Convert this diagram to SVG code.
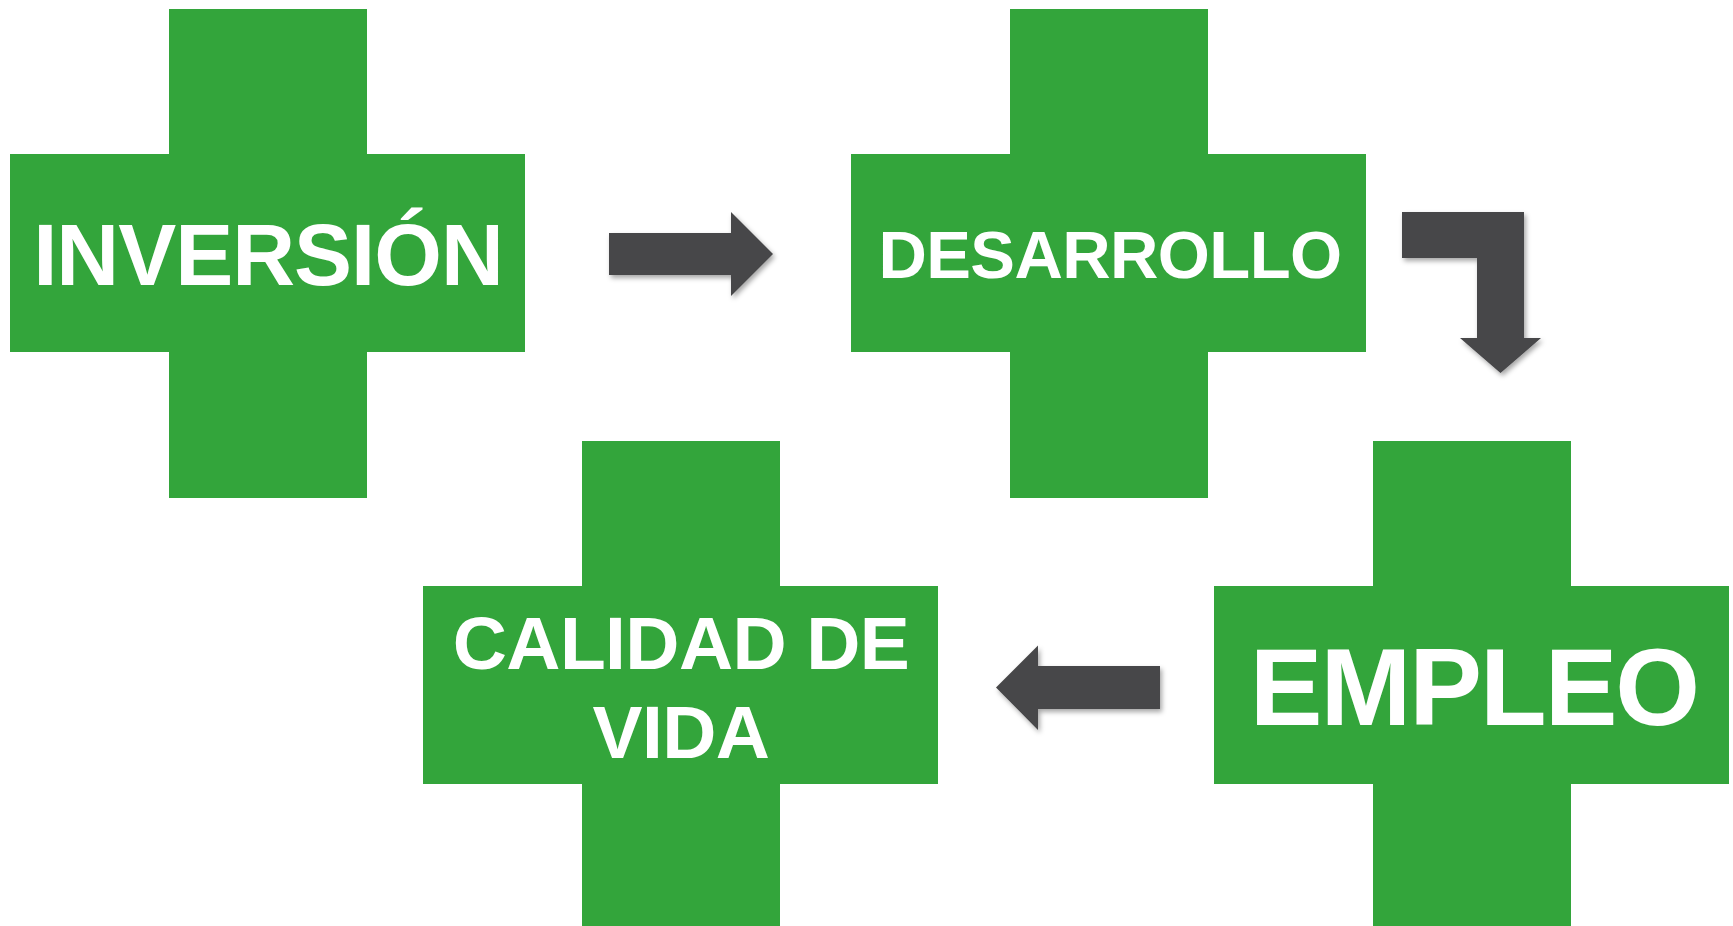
<svg xmlns="http://www.w3.org/2000/svg" xmlns:xlink="http://www.w3.org/1999/xlink" width="1733" height="926" viewBox="0 0 1733 926">
  <style>
    .cross { fill: #33a53b; }
    .lbl { fill: #ffffff; font-family: "Liberation Sans", Arial, sans-serif; font-weight: bold; text-anchor: middle; }
    .arrow { fill: #464648; filter: url(#shadow); }
  </style>
  <defs>
    <path id="crossShape" d="M159,0 h198 v145 h158 v198 h-158 v146 h-198 v-146 h-159 v-198 h159 z"/>
    <filter id="shadow" x="-20%" y="-20%" width="150%" height="150%">
      <feDropShadow dx="2" dy="3" stdDeviation="2.5" flood-color="#000000" flood-opacity="0.35"/>
    </filter>
  </defs>
  <rect width="1733" height="926" fill="#ffffff"/>

  <g id="node-inversion">
    <use xlink:href="#crossShape" href="#crossShape" class="cross" transform="translate(10,9)"/>
    <text class="lbl" x="268" y="285" font-size="87" letter-spacing="-1">INVERSIÓN</text>
  </g>

  <g id="node-desarrollo">
    <use xlink:href="#crossShape" href="#crossShape" class="cross" transform="translate(851,9)"/>
    <text class="lbl" x="1110" y="278" font-size="67" letter-spacing="-0.6">DESARROLLO</text>
  </g>

  <g id="node-empleo">
    <use xlink:href="#crossShape" href="#crossShape" class="cross" transform="translate(1214,441)"/>
    <text class="lbl" x="1474" y="725" font-size="109" letter-spacing="-2">EMPLEO</text>
  </g>

  <g id="node-calidad">
    <use xlink:href="#crossShape" href="#crossShape" class="cross" transform="translate(423,441)"/>
    <text class="lbl" x="681" y="669" font-size="75" letter-spacing="-0.6">CALIDAD DE</text>
    <text class="lbl" x="681" y="758" font-size="75" letter-spacing="-0.6">VIDA</text>
  </g>

  <g id="connectors">
    <path class="arrow" d="M609,233 H731 V212 L773,254 L731,296 V275 H609 Z"/>
    <path class="arrow" d="M1402,212 H1524 V338 H1541 L1500.5,373 L1460,338 H1477 V258 H1402 Z"/>
    <path class="arrow" d="M1160,666 H1038 V645.5 L996,687.5 L1038,730 V709 H1160 Z"/>
  </g>
</svg>
